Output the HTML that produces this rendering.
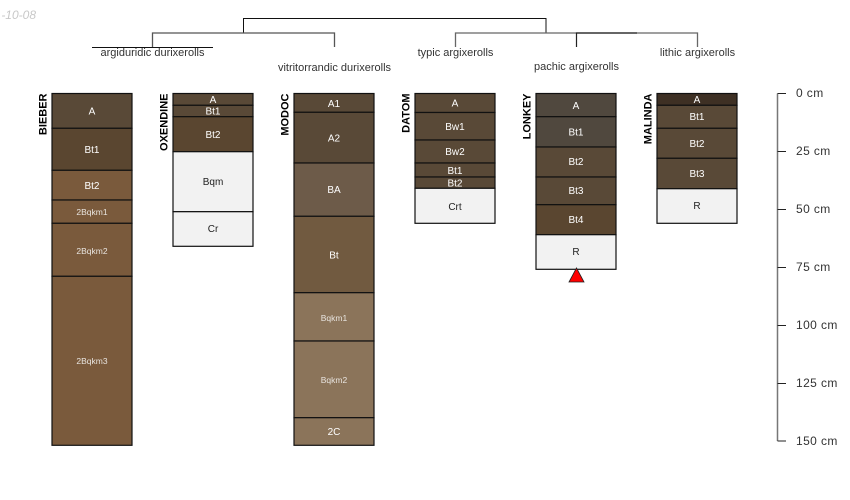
<!DOCTYPE html>
<html><head><meta charset="utf-8"><style>
html,body{margin:0;padding:0;background:#fff}
svg{display:block}
text{font-family:"Liberation Sans",sans-serif}
.h text{font-size:10px;fill:#fff;text-anchor:middle}
.s text{font-size:8.500px;fill:#e8e4df;text-anchor:middle}
.d text{font-size:10px;fill:#222;text-anchor:middle}
.id{font-size:11px;font-weight:bold;fill:#000;text-anchor:end}
.t{font-size:11px;fill:#333;text-anchor:middle}
.sc{font-size:12px;letter-spacing:.4px;fill:#333}
rect{stroke:#111;stroke-width:1.2}
</style></head><body>
<svg width="850" height="500" viewBox="0 0 850 500" xmlns="http://www.w3.org/2000/svg">
<text x="36" y="19" font-size="12" font-style="italic" fill="#c8c8c8" text-anchor="end">-10-08</text>
<g fill="none" stroke-width="1">
<path d="M243.5 33V18.5H546V33" stroke="#111"/>
<path d="M152.500 47V33H334.500V47" stroke="#555" stroke-width="1.300"/>
<path d="M92 47.500H213" stroke="#111"/>
<path d="M455.500 47V33H697.500V47" stroke="#666" stroke-width="1.300"/>
<path d="M576.500 47V33H637" stroke="#222" stroke-width="1.200"/>
</g>
<text class="t" x="152.500" y="56">argiduridic durixerolls</text>
<text class="t" x="334.500" y="71">vitritorrandic durixerolls</text>
<text class="t" x="455.500" y="56">typic argixerolls</text>
<text class="t" x="576.500" y="70">pachic argixerolls</text>
<text class="t" x="697.500" y="56">lithic argixerolls</text>

<g>
<rect x="52" y="93.500" width="80" height="34.800" fill="#594937"/>
<rect x="52" y="128.300" width="80" height="42" fill="#5a4630"/>
<rect x="52" y="170.300" width="80" height="29.700" fill="#7a5a3c"/>
<rect x="52" y="200" width="80" height="23.300" fill="#7a5a3c"/>
<rect x="52" y="223.300" width="80" height="53" fill="#7a5a3c"/>
<rect x="52" y="276.300" width="80" height="169" fill="#7a5a3c"/>

<rect x="173" y="93.500" width="80" height="11.800" fill="#594937"/>
<rect x="173" y="105.300" width="80" height="11.400" fill="#594937"/>
<rect x="173" y="116.700" width="80" height="35" fill="#5a4630"/>
<rect x="173" y="151.700" width="80" height="60" fill="#f2f2f2"/>
<rect x="173" y="211.700" width="80" height="34.600" fill="#f2f2f2"/>

<rect x="294" y="93.500" width="80" height="18.800" fill="#594937"/>
<rect x="294" y="112.300" width="80" height="50.700" fill="#594937"/>
<rect x="294" y="163" width="80" height="53.300" fill="#6d5b49"/>
<rect x="294" y="216.300" width="80" height="76.400" fill="#715a40"/>
<rect x="294" y="292.700" width="80" height="48.300" fill="#8b745a"/>
<rect x="294" y="341" width="80" height="76.700" fill="#8b745a"/>
<rect x="294" y="417.700" width="80" height="27.600" fill="#8b745a"/>

<rect x="415" y="93.500" width="80" height="19" fill="#594937"/>
<rect x="415" y="112.500" width="80" height="27.500" fill="#594937"/>
<rect x="415" y="140" width="80" height="23" fill="#594937"/>
<rect x="415" y="163" width="80" height="14" fill="#594937"/>
<rect x="415" y="177" width="80" height="11.300" fill="#594937"/>
<rect x="415" y="188.300" width="80" height="35" fill="#f2f2f2"/>

<rect x="536" y="93.500" width="80" height="23.200" fill="#50483e"/>
<rect x="536" y="116.700" width="80" height="30.300" fill="#50483e"/>
<rect x="536" y="147" width="80" height="30" fill="#594937"/>
<rect x="536" y="177" width="80" height="27.700" fill="#594937"/>
<rect x="536" y="204.700" width="80" height="30" fill="#5a4630"/>
<rect x="536" y="234.700" width="80" height="34.600" fill="#f2f2f2"/>

<rect x="657" y="93.500" width="80" height="11.800" fill="#3e3024"/>
<rect x="657" y="105.300" width="80" height="23" fill="#594937"/>
<rect x="657" y="128.300" width="80" height="30" fill="#594937"/>
<rect x="657" y="158.300" width="80" height="30.400" fill="#594937"/>
<rect x="657" y="188.700" width="80" height="34.600" fill="#f2f2f2"/>
</g>
<polygon points="576.500,268 569,282 584,282" fill="#f00" stroke="#222" stroke-width="0.800"/>

<g class="h">
<text x="92" y="114.500">A</text><text x="92" y="153">Bt1</text><text x="92" y="189">Bt2</text>
<text x="213" y="103">A</text><text x="213" y="114.500">Bt1</text><text x="213" y="138">Bt2</text>
<text x="334" y="107">A1</text><text x="334" y="141.500">A2</text><text x="334" y="193">BA</text><text x="334" y="258.500">Bt</text><text x="334" y="435">2C</text>
<text x="455" y="106.500">A</text><text x="455" y="130">Bw1</text><text x="455" y="155">Bw2</text><text x="455" y="174">Bt1</text><text x="455" y="186.500">Bt2</text>
<text x="576" y="109">A</text><text x="576" y="135.500">Bt1</text><text x="576" y="165">Bt2</text><text x="576" y="194">Bt3</text><text x="576" y="223">Bt4</text>
<text x="697" y="103">A</text><text x="697" y="120">Bt1</text><text x="697" y="147">Bt2</text><text x="697" y="177">Bt3</text>
</g>
<g class="s">
<text x="92" y="215">2Bqkm1</text><text x="92" y="254">2Bqkm2</text><text x="92" y="364">2Bqkm3</text>
<text x="334" y="321">Bqkm1</text><text x="334" y="383">Bqkm2</text>
</g>
<g class="d">
<text x="213" y="185">Bqm</text><text x="213" y="232">Cr</text>
<text x="455" y="210">Crt</text>
<text x="576" y="255">R</text>
<text x="697" y="209">R</text>
</g>

<text class="id" transform="translate(46.500,93.500) rotate(-90)">BIEBER</text>
<text class="id" transform="translate(167.500,93.500) rotate(-90)">OXENDINE</text>
<text class="id" transform="translate(288.500,93.500) rotate(-90)">MODOC</text>
<text class="id" transform="translate(409.500,93.500) rotate(-90)">DATOM</text>
<text class="id" transform="translate(530.500,93.500) rotate(-90)">LONKEY</text>
<text class="id" transform="translate(651.500,93.500) rotate(-90)">MALINDA</text>

<path d="M777.500 93.500V441" stroke="#777" stroke-width="1.500" fill="none"/>
<path d="M777.500 93.500H786M777.500 151.500H786M777.500 209.500H786M777.500 267.500H786M777.500 325.500H786M777.500 383.500H786M777.500 441H786" stroke="#222" stroke-width="1" fill="none"/>
<g class="sc">
<text x="796" y="97">0 cm</text><text x="796" y="155">25 cm</text><text x="796" y="213">50 cm</text><text x="796" y="271">75 cm</text><text x="796" y="329">100 cm</text><text x="796" y="387">125 cm</text><text x="796" y="445">150 cm</text>
</g>
</svg>
</body></html>
